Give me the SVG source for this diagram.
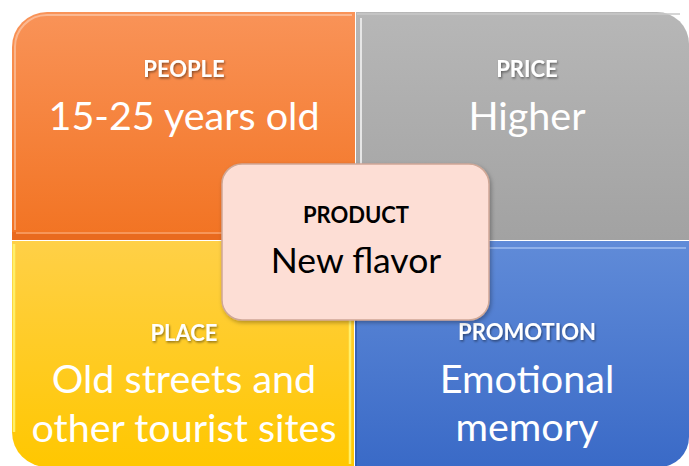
<svg xmlns="http://www.w3.org/2000/svg" width="689" height="466" viewBox="0 0 689 466">
  <defs>
    <linearGradient id="gOrange" x1="0" y1="0" x2="0" y2="1">
      <stop offset="0" stop-color="#F99358"/>
      <stop offset="1" stop-color="#F27322"/>
    </linearGradient>
    <linearGradient id="gGray" x1="0" y1="0" x2="0" y2="1">
      <stop offset="0" stop-color="#B7B7B7"/>
      <stop offset="1" stop-color="#A2A2A2"/>
    </linearGradient>
    <linearGradient id="gYellow" x1="0" y1="0" x2="0" y2="1">
      <stop offset="0" stop-color="#FFD047"/>
      <stop offset="1" stop-color="#FFC700"/>
    </linearGradient>
    <linearGradient id="gBlue" x1="0" y1="0" x2="0" y2="1">
      <stop offset="0" stop-color="#608BD8"/>
      <stop offset="1" stop-color="#3A6AC7"/>
    </linearGradient>
    <filter id="txtShadow" x="-10%" y="-30%" width="130%" height="170%">
      <feDropShadow dx="1" dy="1.5" stdDeviation="1" flood-color="#000" flood-opacity="0.45"/>
    </filter>
    <filter id="boxShadow" x="-10%" y="-10%" width="125%" height="130%">
      <feDropShadow dx="1.5" dy="2" stdDeviation="2" flood-color="#000" flood-opacity="0.3"/>
    </filter>
  </defs>
  <style>
    .head { font-family: Lato, "Liberation Sans", sans-serif; font-weight: bold; font-size: 22px; fill: #FFFFFF; text-anchor: middle; }
    .body { font-family: Lato, "Liberation Sans", sans-serif; font-size: 39.5px; fill: #FFFFFF; text-anchor: middle; }
    .chead { font-family: Lato, "Liberation Sans", sans-serif; font-weight: bold; font-size: 22px; fill: #000000; text-anchor: middle; }
    .cbody { font-family: Lato, "Liberation Sans", sans-serif; font-size: 35.5px; fill: #000000; text-anchor: middle; }
    .hl { fill: none; stroke: #FFFFFF; stroke-opacity: 0.35; stroke-width: 2; }
  </style>

  <rect width="689" height="466" fill="#FFFFFF"/>

  <!-- PEOPLE quadrant -->
  <g id="people">
    <path d="M12,240 V47 A35,35 0 0 1 47,12 H355 V240 Z" fill="url(#gOrange)"/>
    <rect x="12" y="232" width="343" height="8" fill="#E96A1E"/>
    <line x1="16" y1="233" x2="351" y2="233" stroke="#FBA66E" stroke-width="1.5"/>
    <path d="M15,230 V48 A32,32 0 0 1 47,15 H352" class="hl"/>
    <text class="head" x="184" y="77" filter="url(#txtShadow)">PEOPLE</text>
    <text class="body" x="184" y="130">15-25 years old</text>
  </g>

  <!-- PRICE quadrant -->
  <g id="price">
    <path d="M356,12 H657 A32,32 0 0 1 689,44 V240 H356 Z" fill="url(#gGray)"/>
    <line x1="361" y1="18" x2="361" y2="236" stroke="#E6E6E6" stroke-width="2"/>
    <line x1="357" y1="14" x2="680" y2="14" stroke="#C8C8C8" stroke-width="1.5"/>
    <text class="head" x="527" y="77" filter="url(#txtShadow)">PRICE</text>
    <text class="body" x="527" y="130">Higher</text>
  </g>

  <!-- PLACE quadrant -->
  <g id="place">
    <path d="M12,241 H354 V467 H47 A35,35 0 0 1 12,432 Z" fill="url(#gYellow)"/>
    <line x1="14" y1="244" x2="14" y2="432" stroke="#FFF06A" stroke-width="2.5"/>
    <line x1="350" y1="244" x2="350" y2="464" stroke="#FFF06A" stroke-width="2.5"/>
    <text class="head" x="184" y="341" filter="url(#txtShadow)">PLACE</text>
    <text class="body" x="184" y="393">Old streets and</text>
    <text class="body" x="184" y="442">other tourist sites</text>
  </g>

  <!-- PROMOTION quadrant -->
  <g id="promotion">
    <path d="M355,241 H689 V437 A30,30 0 0 1 659,467 H355 Z" fill="url(#gBlue)"/>
    <line x1="358" y1="248" x2="686" y2="248" stroke="#8FB0EA" stroke-width="2"/>
    <line x1="356" y1="242" x2="356" y2="466" stroke="#2F5BB0" stroke-width="1.5"/>
    <text class="head" x="527" y="340" filter="url(#txtShadow)">PROMOTION</text>
    <text class="body" x="527" y="393">Emotional</text>
    <text class="body" x="527" y="441">memory</text>
  </g>

  <!-- PRODUCT centre box -->
  <g id="product">
    <rect x="222" y="164" width="267" height="156" rx="20" ry="20" fill="#FDDED5" stroke="#CFA796" stroke-width="1.5" filter="url(#boxShadow)"/>
    <text class="chead" x="356" y="223">PRODUCT</text>
    <text class="cbody" x="356" y="273">New flavor</text>
  </g>

  <g id="connectors"/>
</svg>
